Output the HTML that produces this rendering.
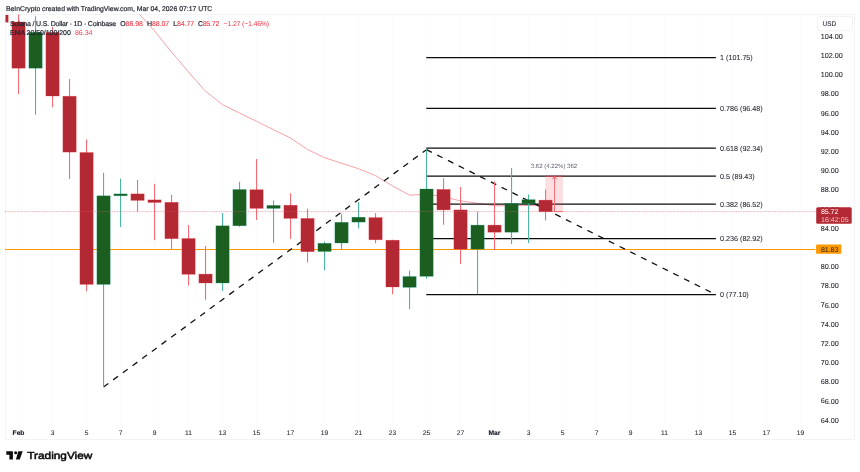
<!DOCTYPE html>
<html><head><meta charset="utf-8"><title>Solana / U.S. Dollar chart</title>
<style>
html,body{margin:0;padding:0;background:#fff;}
body{width:860px;height:472px;position:relative;overflow:hidden;font-family:"Liberation Sans",sans-serif;}
.t{position:absolute;white-space:nowrap;line-height:1;}
</style></head><body>
<svg width="860" height="472" viewBox="0 0 860 472" style="position:absolute;left:0;top:0;will-change:transform">
<rect x="5.5" y="14.5" width="849" height="425" fill="#fff" stroke="#f2f3f5" stroke-width="1"/>
<line x1="18.5" y1="15" x2="18.5" y2="424" stroke="#fbfbfc" stroke-width="1"/>
<line x1="52.5" y1="15" x2="52.5" y2="424" stroke="#fbfbfc" stroke-width="1"/>
<line x1="86.5" y1="15" x2="86.5" y2="424" stroke="#fbfbfc" stroke-width="1"/>
<line x1="120.5" y1="15" x2="120.5" y2="424" stroke="#fbfbfc" stroke-width="1"/>
<line x1="154.5" y1="15" x2="154.5" y2="424" stroke="#fbfbfc" stroke-width="1"/>
<line x1="188.5" y1="15" x2="188.5" y2="424" stroke="#fbfbfc" stroke-width="1"/>
<line x1="222.5" y1="15" x2="222.5" y2="424" stroke="#fbfbfc" stroke-width="1"/>
<line x1="256.5" y1="15" x2="256.5" y2="424" stroke="#fbfbfc" stroke-width="1"/>
<line x1="290.5" y1="15" x2="290.5" y2="424" stroke="#fbfbfc" stroke-width="1"/>
<line x1="324.5" y1="15" x2="324.5" y2="424" stroke="#fbfbfc" stroke-width="1"/>
<line x1="358.5" y1="15" x2="358.5" y2="424" stroke="#fbfbfc" stroke-width="1"/>
<line x1="392.5" y1="15" x2="392.5" y2="424" stroke="#fbfbfc" stroke-width="1"/>
<line x1="426.5" y1="15" x2="426.5" y2="424" stroke="#fbfbfc" stroke-width="1"/>
<line x1="460.5" y1="15" x2="460.5" y2="424" stroke="#fbfbfc" stroke-width="1"/>
<line x1="494.5" y1="15" x2="494.5" y2="424" stroke="#fbfbfc" stroke-width="1"/>
<line x1="528.5" y1="15" x2="528.5" y2="424" stroke="#fbfbfc" stroke-width="1"/>
<line x1="562.5" y1="15" x2="562.5" y2="424" stroke="#fbfbfc" stroke-width="1"/>
<line x1="596.5" y1="15" x2="596.5" y2="424" stroke="#fbfbfc" stroke-width="1"/>
<line x1="630.5" y1="15" x2="630.5" y2="424" stroke="#fbfbfc" stroke-width="1"/>
<line x1="664.5" y1="15" x2="664.5" y2="424" stroke="#fbfbfc" stroke-width="1"/>
<line x1="698.5" y1="15" x2="698.5" y2="424" stroke="#fbfbfc" stroke-width="1"/>
<line x1="732.5" y1="15" x2="732.5" y2="424" stroke="#fbfbfc" stroke-width="1"/>
<line x1="766.5" y1="15" x2="766.5" y2="424" stroke="#fbfbfc" stroke-width="1"/>
<line x1="800.5" y1="15" x2="800.5" y2="424" stroke="#fbfbfc" stroke-width="1"/>
<clipPath id="cp"><rect x="5" y="14.3" width="811" height="410"/></clipPath>
<g clip-path="url(#cp)">
<polyline fill="none" stroke="#f7a1a7" stroke-width="1" stroke-linejoin="round" points="139.3,14.2 154.5,31.0 171.5,52.0 188.5,72.0 205.5,91.3 222.5,104.6 239.5,113.0 256.5,121.3 273.5,129.7 290.5,138.0 307.5,149.5 324.5,157.7 341.5,163.2 358.5,168.7 375.5,175.6 392.5,185.9 409.5,195.2 426.5,194.2 443.5,196.8 460.5,200.9 477.5,203.2 494.5,205.8 511.5,205.8 528.5,205.5 545.5,205.8"/>
<line x1="5" y1="249.4" x2="815.3" y2="249.4" stroke="#ff9800" stroke-width="1.05"/>
<line x1="426.3" y1="57.5" x2="715.9" y2="57.5" stroke="#0c0c0c" stroke-width="1.25"/>
<line x1="426.3" y1="108.4" x2="715.9" y2="108.4" stroke="#0c0c0c" stroke-width="1.25"/>
<line x1="426.3" y1="148.2" x2="715.9" y2="148.2" stroke="#0c0c0c" stroke-width="1.25"/>
<line x1="426.3" y1="176.2" x2="715.9" y2="176.2" stroke="#0c0c0c" stroke-width="1.25"/>
<line x1="426.3" y1="204.2" x2="715.9" y2="204.2" stroke="#0c0c0c" stroke-width="1.25"/>
<line x1="426.3" y1="238.5" x2="715.9" y2="238.5" stroke="#0c0c0c" stroke-width="1.25"/>
<line x1="426.3" y1="294.5" x2="715.9" y2="294.5" stroke="#0c0c0c" stroke-width="1.25"/>
<path d="M103.5 387 L426.5 149.7" fill="none" stroke="#111" stroke-width="1.3" stroke-dasharray="6 6"/>
<path d="M426.5 149.7 L715.5 294.5" fill="none" stroke="#111" stroke-width="1.3" stroke-dasharray="6 6"/>
<rect x="545.2" y="176.2" width="17.7" height="35.4" fill="#f23645" fill-opacity="0.16"/>
<rect x="5.5" y="14.9" width="2.9" height="7.5" fill="#b22833"/>
<line x1="18.55" y1="14.3" x2="18.55" y2="94.1" stroke="#f56c77" stroke-width="1.1"/>
<rect x="11.90" y="22.0" width="13.3" height="46.2" fill="#b22833" stroke="#f23645" stroke-opacity="0.45" stroke-width="0.6"/>
<line x1="35.55" y1="16.2" x2="35.55" y2="114.6" stroke="#4db5a2" stroke-width="1.1"/>
<rect x="28.90" y="32.4" width="13.3" height="35.8" fill="#1b5e20" stroke="#089981" stroke-opacity="0.45" stroke-width="0.6"/>
<line x1="52.55" y1="26.8" x2="52.55" y2="107.2" stroke="#f56c77" stroke-width="1.1"/>
<rect x="45.90" y="32.4" width="13.3" height="63.6" fill="#b22833" stroke="#f23645" stroke-opacity="0.45" stroke-width="0.6"/>
<line x1="69.55" y1="79.0" x2="69.55" y2="179.0" stroke="#f56c77" stroke-width="1.1"/>
<rect x="62.90" y="96.2" width="13.3" height="55.9" fill="#b22833" stroke="#f23645" stroke-opacity="0.45" stroke-width="0.6"/>
<line x1="86.55" y1="139.4" x2="86.55" y2="291.3" stroke="#f56c77" stroke-width="1.1"/>
<rect x="79.90" y="152.5" width="13.3" height="131.9" fill="#b22833" stroke="#f23645" stroke-opacity="0.45" stroke-width="0.6"/>
<line x1="103.55" y1="172.8" x2="103.55" y2="387.0" stroke="#4db5a2" stroke-width="1.1"/>
<rect x="96.90" y="195.8" width="13.3" height="88.6" fill="#1b5e20" stroke="#089981" stroke-opacity="0.45" stroke-width="0.6"/>
<line x1="120.55" y1="178.4" x2="120.55" y2="227.1" stroke="#4db5a2" stroke-width="1.1"/>
<rect x="113.90" y="193.9" width="13.3" height="1.9" fill="#1b5e20" stroke="#089981" stroke-opacity="0.45" stroke-width="0.6"/>
<line x1="137.55" y1="179.9" x2="137.55" y2="211.6" stroke="#f56c77" stroke-width="1.1"/>
<rect x="130.90" y="193.9" width="13.3" height="6.5" fill="#b22833" stroke="#f23645" stroke-opacity="0.45" stroke-width="0.6"/>
<line x1="154.55" y1="183.7" x2="154.55" y2="240.2" stroke="#f56c77" stroke-width="1.1"/>
<rect x="147.90" y="199.9" width="13.3" height="2.6" fill="#b22833" stroke="#f23645" stroke-opacity="0.45" stroke-width="0.6"/>
<line x1="171.55" y1="194.8" x2="171.55" y2="248.9" stroke="#f56c77" stroke-width="1.1"/>
<rect x="164.90" y="202.3" width="13.3" height="36.4" fill="#b22833" stroke="#f23645" stroke-opacity="0.45" stroke-width="0.6"/>
<line x1="188.55" y1="225.0" x2="188.55" y2="285.6" stroke="#f56c77" stroke-width="1.1"/>
<rect x="181.90" y="238.5" width="13.3" height="35.8" fill="#b22833" stroke="#f23645" stroke-opacity="0.45" stroke-width="0.6"/>
<line x1="205.55" y1="246.1" x2="205.55" y2="299.8" stroke="#f56c77" stroke-width="1.1"/>
<rect x="198.90" y="274.1" width="13.3" height="8.9" fill="#b22833" stroke="#f23645" stroke-opacity="0.45" stroke-width="0.6"/>
<line x1="222.55" y1="213.0" x2="222.55" y2="290.9" stroke="#4db5a2" stroke-width="1.1"/>
<rect x="215.90" y="225.8" width="13.3" height="57.2" fill="#1b5e20" stroke="#089981" stroke-opacity="0.45" stroke-width="0.6"/>
<line x1="239.55" y1="181.7" x2="239.55" y2="226.8" stroke="#4db5a2" stroke-width="1.1"/>
<rect x="232.90" y="189.5" width="13.3" height="36.3" fill="#1b5e20" stroke="#089981" stroke-opacity="0.45" stroke-width="0.6"/>
<line x1="256.55" y1="159.0" x2="256.55" y2="219.9" stroke="#f56c77" stroke-width="1.1"/>
<rect x="249.90" y="189.7" width="13.3" height="18.7" fill="#b22833" stroke="#f23645" stroke-opacity="0.45" stroke-width="0.6"/>
<line x1="273.55" y1="200.4" x2="273.55" y2="242.8" stroke="#4db5a2" stroke-width="1.1"/>
<rect x="266.90" y="205.4" width="13.3" height="3.0" fill="#1b5e20" stroke="#089981" stroke-opacity="0.45" stroke-width="0.6"/>
<line x1="290.55" y1="193.3" x2="290.55" y2="239.0" stroke="#f56c77" stroke-width="1.1"/>
<rect x="283.90" y="205.2" width="13.3" height="13.2" fill="#b22833" stroke="#f23645" stroke-opacity="0.45" stroke-width="0.6"/>
<line x1="307.55" y1="208.7" x2="307.55" y2="262.5" stroke="#f56c77" stroke-width="1.1"/>
<rect x="300.90" y="218.4" width="13.3" height="33.3" fill="#b22833" stroke="#f23645" stroke-opacity="0.45" stroke-width="0.6"/>
<line x1="324.55" y1="241.4" x2="324.55" y2="270.5" stroke="#4db5a2" stroke-width="1.1"/>
<rect x="317.90" y="243.3" width="13.3" height="8.2" fill="#1b5e20" stroke="#089981" stroke-opacity="0.45" stroke-width="0.6"/>
<line x1="341.55" y1="214.2" x2="341.55" y2="249.5" stroke="#4db5a2" stroke-width="1.1"/>
<rect x="334.90" y="222.3" width="13.3" height="20.7" fill="#1b5e20" stroke="#089981" stroke-opacity="0.45" stroke-width="0.6"/>
<line x1="358.55" y1="202.1" x2="358.55" y2="228.4" stroke="#4db5a2" stroke-width="1.1"/>
<rect x="351.90" y="217.2" width="13.3" height="4.9" fill="#1b5e20" stroke="#089981" stroke-opacity="0.45" stroke-width="0.6"/>
<line x1="375.55" y1="213.1" x2="375.55" y2="243.3" stroke="#f56c77" stroke-width="1.1"/>
<rect x="368.90" y="217.6" width="13.3" height="22.2" fill="#b22833" stroke="#f23645" stroke-opacity="0.45" stroke-width="0.6"/>
<line x1="392.55" y1="239.8" x2="392.55" y2="294.3" stroke="#f56c77" stroke-width="1.1"/>
<rect x="385.90" y="240.2" width="13.3" height="46.8" fill="#b22833" stroke="#f23645" stroke-opacity="0.45" stroke-width="0.6"/>
<line x1="409.55" y1="270.4" x2="409.55" y2="309.0" stroke="#4db5a2" stroke-width="1.1"/>
<rect x="402.90" y="276.5" width="13.3" height="10.8" fill="#1b5e20" stroke="#089981" stroke-opacity="0.45" stroke-width="0.6"/>
<line x1="426.55" y1="149.7" x2="426.55" y2="278.8" stroke="#4db5a2" stroke-width="1.1"/>
<rect x="419.90" y="189.0" width="13.3" height="87.3" fill="#1b5e20" stroke="#089981" stroke-opacity="0.45" stroke-width="0.6"/>
<line x1="443.55" y1="178.2" x2="443.55" y2="224.8" stroke="#f56c77" stroke-width="1.1"/>
<rect x="436.90" y="189.4" width="13.3" height="20.5" fill="#b22833" stroke="#f23645" stroke-opacity="0.45" stroke-width="0.6"/>
<line x1="460.55" y1="187.0" x2="460.55" y2="263.9" stroke="#f56c77" stroke-width="1.1"/>
<rect x="453.90" y="209.9" width="13.3" height="39.2" fill="#b22833" stroke="#f23645" stroke-opacity="0.45" stroke-width="0.6"/>
<line x1="477.55" y1="211.8" x2="477.55" y2="294.3" stroke="#4db5a2" stroke-width="1.1"/>
<rect x="470.90" y="225.1" width="13.3" height="24.0" fill="#1b5e20" stroke="#089981" stroke-opacity="0.45" stroke-width="0.6"/>
<line x1="494.55" y1="181.4" x2="494.55" y2="250.1" stroke="#f56c77" stroke-width="1.1"/>
<rect x="487.90" y="225.1" width="13.3" height="7.1" fill="#b22833" stroke="#f23645" stroke-opacity="0.45" stroke-width="0.6"/>
<line x1="511.55" y1="168.0" x2="511.55" y2="243.9" stroke="#4db5a2" stroke-width="1.1"/>
<rect x="504.90" y="203.4" width="13.3" height="28.8" fill="#1b5e20" stroke="#089981" stroke-opacity="0.45" stroke-width="0.6"/>
<line x1="528.55" y1="194.5" x2="528.55" y2="243.0" stroke="#4db5a2" stroke-width="1.1"/>
<rect x="521.90" y="199.7" width="13.3" height="4.1" fill="#1b5e20" stroke="#089981" stroke-opacity="0.45" stroke-width="0.6"/>
<line x1="545.55" y1="189.4" x2="545.55" y2="220.6" stroke="#f56c77" stroke-width="1.1"/>
<rect x="538.90" y="200.1" width="13.3" height="11.7" fill="#b22833" stroke="#f23645" stroke-opacity="0.45" stroke-width="0.6"/>
<line x1="545.2" y1="176.2" x2="562.9" y2="176.2" stroke="#cf4450" stroke-width="1.1"/>
<line x1="553" y1="211.6" x2="562.9" y2="211.6" stroke="#f2707a" stroke-width="1"/>
<line x1="554.5" y1="176.5" x2="554.5" y2="211.6" stroke="#f2707a" stroke-width="1"/>
<path d="M552.3 179.2 L554.5 176.7 L556.7 179.2" fill="none" stroke="#f0626d" stroke-width="1"/>
<line x1="5" y1="211.6" x2="816" y2="211.6" stroke="#d9606a" stroke-width="1" stroke-dasharray="0.9 0.8" stroke-opacity="0.55"/>
</g>
<rect x="817.5" y="16.5" width="35" height="14.3" rx="2.5" fill="#fff" stroke="#f0f1f3" stroke-width="1"/>
<path d="M6.3 451.2 H12.9 V459.4 H9.4 V454.7 H6.3 Z" fill="#0c0c0e"/>
<circle cx="15.7" cy="452.8" r="1.55" fill="#0c0c0e"/>
<path d="M18.3 451.2 H22.7 L19.7 459.4 H15.9 Z" fill="#0c0c0e"/>
<g font-family="Liberation Sans, sans-serif" text-rendering="geometricPrecision" paint-order="stroke">
<text x="5.9" y="10.90" font-size="6.85" fill="#1e222d" stroke="#1e222d" stroke-width="0.2" textLength="206.4" lengthAdjust="spacing" transform="rotate(0.02 5.9 10.90)">BeInCrypto created with TradingView.com, Mar 04, 2026 07:17 UTC</text>
<text x="10.1" y="25.80" font-size="7.0" fill="#1e222d" stroke="#1e222d" stroke-width="0.2" textLength="106" lengthAdjust="spacing" transform="rotate(0.02 10.1 25.80)">Solana / U.S. Dollar · 1D · Coinbase</text>
<text x="120.2" y="25.80" font-size="7.0" fill="#1e222d" stroke="#1e222d" stroke-width="0.2" textLength="22.8" lengthAdjust="spacing" transform="rotate(0.02 120.2 25.80)">O<tspan fill="#f23645" stroke="#f23645" stroke-width="0.1">86.98</tspan></text>
<text x="147.1" y="25.80" font-size="7.0" fill="#1e222d" stroke="#1e222d" stroke-width="0.2" textLength="22.0" lengthAdjust="spacing" transform="rotate(0.02 147.1 25.80)">H<tspan fill="#f23645" stroke="#f23645" stroke-width="0.1">88.07</tspan></text>
<text x="173.2" y="25.80" font-size="7.0" fill="#1e222d" stroke="#1e222d" stroke-width="0.2" textLength="21.0" lengthAdjust="spacing" transform="rotate(0.02 173.2 25.80)">L<tspan fill="#f23645" stroke="#f23645" stroke-width="0.1">84.77</tspan></text>
<text x="197.9" y="25.80" font-size="7.0" fill="#1e222d" stroke="#1e222d" stroke-width="0.2" textLength="21.4" lengthAdjust="spacing" transform="rotate(0.02 197.9 25.80)">C<tspan fill="#f23645" stroke="#f23645" stroke-width="0.1">85.72</tspan></text>
<text x="223.6" y="25.80" font-size="7.0" fill="#f23645" textLength="45.6" lengthAdjust="spacing" transform="rotate(0.02 223.6 25.80)">−1.27 (−1.46%)</text>
<text x="10.1" y="35.00" font-size="7.0" fill="#1e222d" stroke="#1e222d" stroke-width="0.2" textLength="60.7" lengthAdjust="spacing" transform="rotate(0.02 10.1 35.00)">EMA 20/50/100/200</text>
<text x="74.9" y="35.00" font-size="7.0" fill="#f23645" textLength="17.6" lengthAdjust="spacing" transform="rotate(0.02 74.9 35.00)">86.34</text>
<text x="820.8" y="38.70" font-size="7.2" fill="#1c202b" stroke="#1c202b" stroke-width="0.08" transform="rotate(0.02 820.8 38.70)">104.00</text>
<text x="820.8" y="57.90" font-size="7.2" fill="#1c202b" stroke="#1c202b" stroke-width="0.08" transform="rotate(0.02 820.8 57.90)">102.00</text>
<text x="820.8" y="77.10" font-size="7.2" fill="#1c202b" stroke="#1c202b" stroke-width="0.08" transform="rotate(0.02 820.8 77.10)">100.00</text>
<text x="820.8" y="96.30" font-size="7.2" fill="#1c202b" stroke="#1c202b" stroke-width="0.08" transform="rotate(0.02 820.8 96.30)">98.00</text>
<text x="820.8" y="115.50" font-size="7.2" fill="#1c202b" stroke="#1c202b" stroke-width="0.08" transform="rotate(0.02 820.8 115.50)">96.00</text>
<text x="820.8" y="134.70" font-size="7.2" fill="#1c202b" stroke="#1c202b" stroke-width="0.08" transform="rotate(0.02 820.8 134.70)">94.00</text>
<text x="820.8" y="153.90" font-size="7.2" fill="#1c202b" stroke="#1c202b" stroke-width="0.08" transform="rotate(0.02 820.8 153.90)">92.00</text>
<text x="820.8" y="173.10" font-size="7.2" fill="#1c202b" stroke="#1c202b" stroke-width="0.08" transform="rotate(0.02 820.8 173.10)">90.00</text>
<text x="820.8" y="192.30" font-size="7.2" fill="#1c202b" stroke="#1c202b" stroke-width="0.08" transform="rotate(0.02 820.8 192.30)">88.00</text>
<text x="820.8" y="211.50" font-size="7.2" fill="#1c202b" stroke="#1c202b" stroke-width="0.08" transform="rotate(0.02 820.8 211.50)">86.00</text>
<text x="820.8" y="230.70" font-size="7.2" fill="#1c202b" stroke="#1c202b" stroke-width="0.08" transform="rotate(0.02 820.8 230.70)">84.00</text>
<text x="820.8" y="269.10" font-size="7.2" fill="#1c202b" stroke="#1c202b" stroke-width="0.08" transform="rotate(0.02 820.8 269.10)">80.00</text>
<text x="820.8" y="288.30" font-size="7.2" fill="#1c202b" stroke="#1c202b" stroke-width="0.08" transform="rotate(0.02 820.8 288.30)">78.00</text>
<text x="820.8" y="307.50" font-size="7.2" fill="#1c202b" stroke="#1c202b" stroke-width="0.08" transform="rotate(0.02 820.8 307.50)">76.00</text>
<text x="820.8" y="326.70" font-size="7.2" fill="#1c202b" stroke="#1c202b" stroke-width="0.08" transform="rotate(0.02 820.8 326.70)">74.00</text>
<text x="820.8" y="345.90" font-size="7.2" fill="#1c202b" stroke="#1c202b" stroke-width="0.08" transform="rotate(0.02 820.8 345.90)">72.00</text>
<text x="820.8" y="365.10" font-size="7.2" fill="#1c202b" stroke="#1c202b" stroke-width="0.08" transform="rotate(0.02 820.8 365.10)">70.00</text>
<text x="820.8" y="384.30" font-size="7.2" fill="#1c202b" stroke="#1c202b" stroke-width="0.08" transform="rotate(0.02 820.8 384.30)">68.00</text>
<text x="820.8" y="403.50" font-size="7.2" fill="#1c202b" stroke="#1c202b" stroke-width="0.08" transform="rotate(0.02 820.8 403.50)">66.00</text>
<text x="820.8" y="422.70" font-size="7.2" fill="#1c202b" stroke="#1c202b" stroke-width="0.08" transform="rotate(0.02 820.8 422.70)">64.00</text>
<rect x="816.2" y="207.2" width="35.5" height="16.6" rx="1.5" fill="#b22833"/>
<rect x="816.1" y="244.5" width="25.2" height="9.3" rx="0.6" fill="#ff9800"/>
<text x="821" y="214.00" font-size="7.1" fill="#ffffff" textLength="17.4" lengthAdjust="spacing" transform="rotate(0.02 821 214.00)">85.72</text>
<text x="821" y="221.90" font-size="7.1" fill="#f0c4c8" textLength="27.6" lengthAdjust="spacing" transform="rotate(0.02 821 221.90)">16:42:05</text>
<text x="821" y="251.80" font-size="7.1" fill="#1e1e1e" textLength="17.4" lengthAdjust="spacing" transform="rotate(0.02 821 251.80)">81.83</text>
<text x="822.7" y="25.90" font-size="6.9" fill="#1c202b" stroke="#1c202b" stroke-width="0.1" textLength="13.3" lengthAdjust="spacingAndGlyphs" transform="rotate(0.02 822.7 25.90)">USD</text>
<text x="720.0" y="59.85" font-size="7.2" fill="#1c202b" stroke="#1c202b" stroke-width="0.06" transform="rotate(0.02 720.0 59.85)">1 (101.75)</text>
<text x="720.0" y="110.75" font-size="7.2" fill="#1c202b" stroke="#1c202b" stroke-width="0.06" transform="rotate(0.02 720.0 110.75)">0.786 (96.48)</text>
<text x="720.0" y="150.55" font-size="7.2" fill="#1c202b" stroke="#1c202b" stroke-width="0.06" transform="rotate(0.02 720.0 150.55)">0.618 (92.34)</text>
<text x="720.0" y="178.55" font-size="7.2" fill="#1c202b" stroke="#1c202b" stroke-width="0.06" transform="rotate(0.02 720.0 178.55)">0.5 (89.43)</text>
<text x="720.0" y="206.55" font-size="7.2" fill="#1c202b" stroke="#1c202b" stroke-width="0.06" transform="rotate(0.02 720.0 206.55)">0.382 (86.52)</text>
<text x="720.0" y="240.85" font-size="7.2" fill="#1c202b" stroke="#1c202b" stroke-width="0.06" transform="rotate(0.02 720.0 240.85)">0.236 (82.92)</text>
<text x="720.0" y="296.85" font-size="7.2" fill="#1c202b" stroke="#1c202b" stroke-width="0.06" transform="rotate(0.02 720.0 296.85)">0 (77.10)</text>
<text x="530.8" y="167.90" font-size="6.05" fill="#5d606b" textLength="46.4" lengthAdjust="spacing" transform="rotate(0.02 530.8 167.90)">3.62 (4.22%) 362</text>
<text x="18.5" y="434.90" font-size="6.7" fill="#131722" stroke="#131722" stroke-width="0.12" font-weight="700" text-anchor="middle" transform="rotate(0.02 18.5 434.90)">Feb</text>
<text x="52.5" y="434.90" font-size="6.7" fill="#1c202b" stroke="#1c202b" stroke-width="0.06" text-anchor="middle" transform="rotate(0.02 52.5 434.90)">3</text>
<text x="86.5" y="434.90" font-size="6.7" fill="#1c202b" stroke="#1c202b" stroke-width="0.06" text-anchor="middle" transform="rotate(0.02 86.5 434.90)">5</text>
<text x="120.5" y="434.90" font-size="6.7" fill="#1c202b" stroke="#1c202b" stroke-width="0.06" text-anchor="middle" transform="rotate(0.02 120.5 434.90)">7</text>
<text x="154.5" y="434.90" font-size="6.7" fill="#1c202b" stroke="#1c202b" stroke-width="0.06" text-anchor="middle" transform="rotate(0.02 154.5 434.90)">9</text>
<text x="188.5" y="434.90" font-size="6.7" fill="#1c202b" stroke="#1c202b" stroke-width="0.06" text-anchor="middle" transform="rotate(0.02 188.5 434.90)">11</text>
<text x="222.5" y="434.90" font-size="6.7" fill="#1c202b" stroke="#1c202b" stroke-width="0.06" text-anchor="middle" transform="rotate(0.02 222.5 434.90)">13</text>
<text x="256.5" y="434.90" font-size="6.7" fill="#1c202b" stroke="#1c202b" stroke-width="0.06" text-anchor="middle" transform="rotate(0.02 256.5 434.90)">15</text>
<text x="290.5" y="434.90" font-size="6.7" fill="#1c202b" stroke="#1c202b" stroke-width="0.06" text-anchor="middle" transform="rotate(0.02 290.5 434.90)">17</text>
<text x="324.5" y="434.90" font-size="6.7" fill="#1c202b" stroke="#1c202b" stroke-width="0.06" text-anchor="middle" transform="rotate(0.02 324.5 434.90)">19</text>
<text x="358.5" y="434.90" font-size="6.7" fill="#1c202b" stroke="#1c202b" stroke-width="0.06" text-anchor="middle" transform="rotate(0.02 358.5 434.90)">21</text>
<text x="392.5" y="434.90" font-size="6.7" fill="#1c202b" stroke="#1c202b" stroke-width="0.06" text-anchor="middle" transform="rotate(0.02 392.5 434.90)">23</text>
<text x="426.5" y="434.90" font-size="6.7" fill="#1c202b" stroke="#1c202b" stroke-width="0.06" text-anchor="middle" transform="rotate(0.02 426.5 434.90)">25</text>
<text x="460.5" y="434.90" font-size="6.7" fill="#1c202b" stroke="#1c202b" stroke-width="0.06" text-anchor="middle" transform="rotate(0.02 460.5 434.90)">27</text>
<text x="494.5" y="434.90" font-size="6.7" fill="#131722" stroke="#131722" stroke-width="0.12" font-weight="700" text-anchor="middle" transform="rotate(0.02 494.5 434.90)">Mar</text>
<text x="528.5" y="434.90" font-size="6.7" fill="#1c202b" stroke="#1c202b" stroke-width="0.06" text-anchor="middle" transform="rotate(0.02 528.5 434.90)">3</text>
<text x="562.5" y="434.90" font-size="6.7" fill="#1c202b" stroke="#1c202b" stroke-width="0.06" text-anchor="middle" transform="rotate(0.02 562.5 434.90)">5</text>
<text x="596.5" y="434.90" font-size="6.7" fill="#1c202b" stroke="#1c202b" stroke-width="0.06" text-anchor="middle" transform="rotate(0.02 596.5 434.90)">7</text>
<text x="630.5" y="434.90" font-size="6.7" fill="#1c202b" stroke="#1c202b" stroke-width="0.06" text-anchor="middle" transform="rotate(0.02 630.5 434.90)">9</text>
<text x="664.5" y="434.90" font-size="6.7" fill="#1c202b" stroke="#1c202b" stroke-width="0.06" text-anchor="middle" transform="rotate(0.02 664.5 434.90)">11</text>
<text x="698.5" y="434.90" font-size="6.7" fill="#1c202b" stroke="#1c202b" stroke-width="0.06" text-anchor="middle" transform="rotate(0.02 698.5 434.90)">13</text>
<text x="732.5" y="434.90" font-size="6.7" fill="#1c202b" stroke="#1c202b" stroke-width="0.06" text-anchor="middle" transform="rotate(0.02 732.5 434.90)">15</text>
<text x="766.5" y="434.90" font-size="6.7" fill="#1c202b" stroke="#1c202b" stroke-width="0.06" text-anchor="middle" transform="rotate(0.02 766.5 434.90)">17</text>
<text x="800.5" y="434.90" font-size="6.7" fill="#1c202b" stroke="#1c202b" stroke-width="0.06" text-anchor="middle" transform="rotate(0.02 800.5 434.90)">19</text>
<text x="27.3" y="458.90" font-size="10.2" fill="#0c0c0e" stroke="#0c0c0e" stroke-width="0.5" textLength="65" lengthAdjust="spacingAndGlyphs" transform="rotate(0.02 27.3 458.90)">TradingView</text>
</g>
</svg>
</body></html>
